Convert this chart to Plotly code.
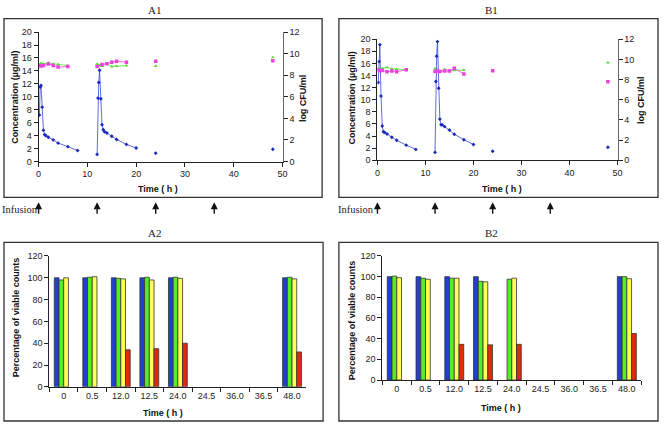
import plotly.graph_objects as go

W, H = 664, 427

# ---------------- Data ----------------
# A1 concentration (µg/ml)
a1_conc_t = [0.17, 0.33, 0.5, 0.75, 1.0, 1.25, 1.5, 2, 3, 4, 6, 8, None,
             12.0, 12.17, 12.33, 12.5, 12.75, 13.0, 13.25, 13.5, 14, 15, 16, 18, 20, None,
             24, None, 48]
a1_conc = [7.2, 11.5, 11.75, 8.4, 4.85, 4.15, 4.0, 3.75, 3.35, 2.85, 2.3, 1.7, None,
           1.1, 9.8, 12.2, 14.1, 9.7, 5.7, 4.9, 4.6, 4.4, 3.9, 3.4, 2.65, 2.1, None,
           1.3, None, 1.9]
# A1 log CFU/ml
a1_pink_t = [0, 0.5, 1, 2, 3, 4, 6, None, 12, 13, 14, 15, 16, 18, None, 24, None, 48]
a1_pink = [8.9, 8.85, 8.9, 9.05, 8.9, 8.75, 8.8, None, 8.8, 9.0, 9.07, 9.2, 9.3, 9.2, None, 9.3, None, 9.35]
a1_green_t = [0, 0.5, 1, 2, 3, 4, 6, None, 12, 12.5, 13, 14, 15, 16, 18, None, 24, None, 48]
a1_green = [9.05, 9.1, 9.05, 9.15, 9.05, 9.0, 8.9, None, 9.05, 8.9, 8.85, 9.05, 8.8, 8.85, 8.9, None, 8.85, None, 9.65]

# B1 concentration (µg/ml)
b1_conc_t = [0.17, 0.33, 0.5, 0.75, 1.0, 1.25, 1.5, 2, 3, 4, 6, 8, None,
             12.0, 12.17, 12.33, 12.5, 12.75, 13.0, 13.25, 13.5, 14, 15, 16, 18, 20, None,
             24, None, 48]
b1_conc = [12.85, 16.3, 19.1, 10.6, 5.65, 4.7, 4.6, 4.35, 3.8, 3.3, 2.5, 1.8, None,
           1.3, 13.0, 17.2, 19.6, 11.9, 6.8, 5.85, 5.85, 5.55, 5.0, 4.3, 3.4, 2.6, None,
           1.5, None, 2.15]
# B1 log CFU/ml
b1_pink_t = [0, 0.5, 1, 2, 3, 4, 6, None, 12, 12.5, 13, 14, 15, 16, 18, None, 24, None, 48]
b1_pink = [8.97, 8.9, 8.9, 8.77, 8.84, 8.77, 8.97, None, 8.8, 8.85, 8.8, 8.84, 8.84, 9.13, 8.55, None, 8.87, None, 7.77]
b1_green_t = [0, 0.5, 1, 2, 3, 4, 6, None, 12, 12.5, 13, 14, 15, 16, 18, None, 24, None, 48]
b1_green = [9.06, 9.1, 9.1, 9.2, 9.06, 9.03, 8.97, None, 9.06, 8.95, 8.8, 9.0, 8.9, 8.9, 8.94, None, 8.9, None, 9.68]

# Bars: percentage of viable counts
time_cats = ["0", "0.5", "12.0", "12.5", "24.0", "24.5", "36.0", "36.5", "48.0"]
a2_blue = [100, 100, 100, 100, 100, None, None, None, 100]
a2_green = [98, 100.5, 99.5, 100.5, 100.5, None, None, None, 100.5]
a2_yellow = [100, 101, 99, 98, 99.5, None, None, None, 99]
a2_red = [None, None, 34, 35, 40, None, None, None, 32]
b2_blue = [100, 100, 100, 100, None, None, None, None, 100]
b2_green = [100.5, 98.5, 98.5, 95.5, 97.5, None, None, None, 100]
b2_yellow = [99, 97.5, 98.5, 95, 98.5, None, None, None, 98]
b2_red = [None, None, 34.5, 34, 34.5, None, None, None, 45]

infusion_times = [0, 12, 24, 36]

# ---------------- Helpers ----------------
def px(x):
    return x / W

def py(y):
    return 1 - y / H

BLUE_LINE = "#3646d8"
BLUE_MK = "#1a2ab8"
PINK = "#ee40dd"
GREEN_MK = "#55dd33"
BAR_BLUE = "#2040d0"
BAR_GREEN = "#55ee22"
BAR_YELLOW = "#ffff55"
BAR_RED = "#e02a10"
SANS = "Liberation Sans, Arial, sans-serif"
SERIF = "Liberation Serif, Times New Roman, serif"
TICKFONT = dict(family=SANS, size=9, color="#222")

fig = go.Figure()

def line_panel(xa, ya, ya2, t, c, pt, pv, gt, gv):
    fig.add_trace(go.Scatter(x=t, y=c, xaxis=xa, yaxis=ya, mode="lines+markers",
                             line=dict(color=BLUE_LINE, width=0.8),
                             marker=dict(symbol="diamond", size=3, color=BLUE_MK),
                             showlegend=False, connectgaps=False))
    fig.add_trace(go.Scatter(x=gt, y=gv, xaxis=xa, yaxis=ya2, mode="lines+markers",
                             line=dict(color=GREEN_MK, width=0.8),
                             marker=dict(symbol="triangle-up", size=3.5, color=GREEN_MK),
                             showlegend=False, connectgaps=False))
    fig.add_trace(go.Scatter(x=pt, y=pv, xaxis=xa, yaxis=ya2, mode="lines+markers",
                             line=dict(color=PINK, width=0.8),
                             marker=dict(symbol="square", size=3.5, color=PINK),
                             showlegend=False, connectgaps=False))

line_panel("x", "y", "y2", a1_conc_t, a1_conc, a1_pink_t, a1_pink, a1_green_t, a1_green)
line_panel("x2", "y3", "y4", b1_conc_t, b1_conc, b1_pink_t, b1_pink, b1_green_t, b1_green)

def bar_panel(xa, ya, vals):
    for v, col in zip(vals, [BAR_BLUE, BAR_GREEN, BAR_YELLOW, BAR_RED]):
        fig.add_trace(go.Bar(x=time_cats, y=v, xaxis=xa, yaxis=ya,
                             marker=dict(color=col, line=dict(color="#333", width=0.8)),
                             showlegend=False))

bar_panel("x3", "y5", [a2_blue, a2_green, a2_yellow, a2_red])
bar_panel("x4", "y6", [b2_blue, b2_green, b2_yellow, b2_red])

axcommon = dict(showgrid=False, zeroline=False, showline=True, linecolor="#222",
                linewidth=1, ticks="outside", ticklen=4, tickcolor="#222",
                tickfont=TICKFONT)

lay = dict(
    width=W, height=H, margin=dict(l=0, r=0, t=0, b=0),
    paper_bgcolor="white", plot_bgcolor="white",
    barmode="group", bargap=0.34, bargroupgap=0,
    xaxis=dict(domain=[px(36), px(283)], range=[0, 50], dtick=10, anchor="y", **axcommon),
    yaxis=dict(domain=[py(160.3), py(27.7)], range=[0, 20], dtick=2, anchor="x", **axcommon),
    yaxis2=dict(range=[0, 12], dtick=2, overlaying="y", side="right", anchor="x", **axcommon),
    xaxis2=dict(domain=[px(379), px(622)], range=[0, 50], dtick=10, anchor="y3", **axcommon),
    yaxis3=dict(domain=[py(159), py(35)], range=[0, 20], dtick=2, anchor="x2", **axcommon),
    yaxis4=dict(range=[0, 12], dtick=2, overlaying="y3", side="right", anchor="x2", **axcommon),
    xaxis3=dict(domain=[px(47), px(307)], anchor="y5", type="category", tickson="boundaries", **axcommon),
    yaxis5=dict(domain=[py(391), py(257)], range=[0, 120], dtick=20, anchor="x3", **axcommon),
    xaxis4=dict(domain=[px(384), px(646)], anchor="y6", type="category", tickson="boundaries", **axcommon),
    yaxis6=dict(domain=[py(384), py(257)], range=[0, 120], dtick=20, anchor="x4", **axcommon),
)
lay["yaxis2"]["linecolor"] = "#666"
lay["yaxis4"]["linecolor"] = "#666"
fig.update_layout(**lay)

# Frames
shapes = []
for (x0, y0, x1, y1) in [(1, 14, 323, 197), (340, 14, 663, 197), (1, 243, 324, 426), (340, 243, 663, 426)]:
    shapes.append(dict(type="rect", xref="paper", yref="paper", x0=px(x0), x1=px(x1),
                       y0=py(y1), y1=py(y0), line=dict(color="#333", width=1.3)))
fig.update_layout(shapes=shapes)

ann = []
def txt(x, y, s, font, angle=0, xanchor="center"):
    ann.append(dict(x=px(x), y=py(y), xref="paper", yref="paper", text=s, showarrow=False,
                    font=font, textangle=angle, xanchor=xanchor, yanchor="middle"))

BOLD = dict(family=SANS, size=9, color="#111")
TITLE = dict(family=SERIF, size=11, color="#222")
# Panel titles
txt(153, 5, "A1", TITLE)
txt(494, 5, "B1", TITLE)
txt(153, 233, "A2", TITLE)
txt(494, 233, "B2", TITLE)
# Axis titles
txt(12, 94, "<b>Concentration (µg/ml)</b>", BOLD, -90)
txt(303, 95, "<b>log CFU/ml</b>", BOLD, -90)
txt(157, 188, "<b>Time ( h )</b>", BOLD)
txt(353, 95, "<b>Concentration (µg/ml)</b>", BOLD, -90)
txt(645, 97, "<b>log CFU/ml</b>", BOLD, -90)
txt(505, 188, "<b>Time ( h )</b>", BOLD)
txt(13, 320, "<b>Percentage of viable counts</b>", BOLD, -90)
txt(162, 418, "<b>Time ( h )</b>", BOLD)
txt(354, 323, "<b>Percentage of viable counts</b>", BOLD, -90)
txt(504, 413, "<b>Time ( h )</b>", BOLD)
# Infusion labels
txt(-3, 209, "Infusion", dict(family=SERIF, size=10.5, color="#222"), xanchor="left")
txt(337, 209, "Infusion", dict(family=SERIF, size=10.5, color="#222"), xanchor="left")
# Infusion arrows
for xa in ["x", "x2"]:
    for t in infusion_times:
        ann.append(dict(x=t, y=py(202), xref=xa, yref="paper", text="", showarrow=True,
                        ax=0, ay=13, axref="pixel", ayref="pixel",
                        arrowhead=2, arrowsize=1, arrowwidth=1.4, arrowcolor="#111"))
fig.update_layout(annotations=ann)

fig.write_html("out.html", config={"displayModeBar": False},
               post_script="document.body.style.margin='0';document.body.style.overflow='hidden';")
